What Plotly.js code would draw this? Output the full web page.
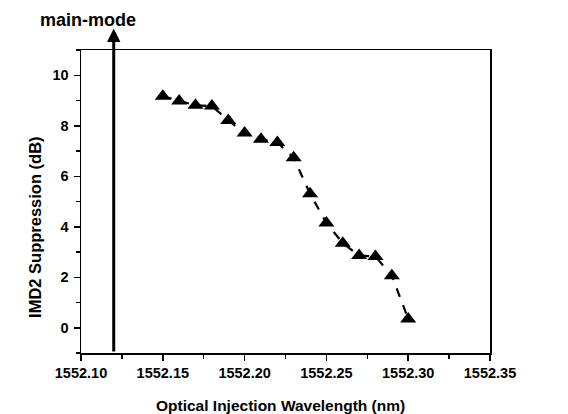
<!DOCTYPE html>
<html><head><meta charset="utf-8">
<script src="https://cdn.plot.ly/plotly-3.0.1.min.js"></script>
<style>html,body{margin:0;padding:0;background:#fff}#c{width:568px;height:414px}</style>
</head><body><div id="c"></div>
<script>
const wavelength = [1552.15,1552.16,1552.17,1552.18,1552.19,1552.20,1552.21,1552.22,1552.23,1552.24,1552.25,1552.26,1552.27,1552.28,1552.29,1552.30];
const suppression = [9.17,8.98,8.81,8.78,8.21,7.71,7.47,7.34,6.73,5.31,4.15,3.35,2.86,2.82,2.06,0.35];
const xTickVals = [1552.10,1552.15,1552.20,1552.25,1552.30,1552.35];
const xTickText = ["1552.10","1552.15","1552.20","1552.25","1552.30","1552.35"];
const yTickVals = [0,2,4,6,8,10];
const yTickText = ["0","2","4","6","8","10"];
const mainModeX = 1552.12;
const mainModeLabel = "main-mode";
const xTitle = "Optical Injection Wavelength (nm)";
const yTitle = "IMD2 Suppression (dB)";

const font = {family: "Liberation Sans, Arial, sans-serif", color: "#000"};
const bold = a => a.map(s => "<b>" + s + "</b>");
const trace = {
  x: wavelength, y: suppression, type: "scatter", mode: "lines+markers",
  line: {color: "#000", width: 2.2, dash: "dash"},
  marker: {symbol: "triangle-up", size: 14, color: "#000"},
  cliponaxis: false, hoverinfo: "skip"
};
const layout = {
  width: 568, height: 414,
  margin: {l: 81, r: 78, t: 50, b: 61},
  paper_bgcolor: "#fff", plot_bgcolor: "#fff",
  showlegend: false,
  font: Object.assign({size: 14}, font),
  xaxis: {
    range: [1552.10, 1552.35], tickmode: "array", tickvals: xTickVals, ticktext: bold(xTickText),
    ticks: "outside", ticklen: 6, tickwidth: 1.5, tickcolor: "#000",
    minor: {dtick: 0.025, tick0: 1552.10, ticks: "outside", ticklen: 4, tickcolor: "#000"},
    showgrid: false, zeroline: false, showline: true, linecolor: "#000", linewidth: 1.5,
    mirror: true, ticklabelstandoff: 0,
    tickfont: Object.assign({size: 14.5}, font)
  },
  yaxis: {
    range: [-1, 11], tickmode: "array", tickvals: yTickVals, ticktext: bold(yTickText),
    ticks: "outside", ticklen: 6, tickwidth: 1.5, tickcolor: "#000",
    minor: {dtick: 1, tick0: 0, ticks: "outside", ticklen: 4, tickcolor: "#000"},
    showgrid: false, zeroline: false, showline: true, linecolor: "#000", linewidth: 1.5,
    mirror: true, ticklabelstandoff: 2,
    tickfont: Object.assign({size: 14.5}, font)
  },
  annotations: [
    {x: mainModeX, y: 11.85, xref: "x", yref: "y", ax: mainModeX, ay: -1, axref: "x", ayref: "y",
     text: "", showarrow: true, arrowhead: 2, arrowsize: 0.9, arrowwidth: 3, arrowcolor: "#000"},
    {x: 0.016, y: 1.099, xref: "paper", yref: "paper", text: "<b>" + mainModeLabel + "</b>",
     showarrow: false, xanchor: "center", yanchor: "middle",
     font: Object.assign({size: 18}, font)},
    {x: 0.487, y: -0.172, xref: "paper", yref: "paper", text: "<b>" + xTitle + "</b>",
     showarrow: false, xanchor: "center", yanchor: "middle",
     font: Object.assign({size: 15.5}, font)},
    {x: -0.1125, y: 0.416, xref: "paper", yref: "paper", text: "<b>" + yTitle + "</b>",
     showarrow: false, xanchor: "center", yanchor: "middle", textangle: -90,
     font: Object.assign({size: 16.5}, font)}
  ]
};
Plotly.newPlot("c", [trace], layout, {staticPlot: true, displayModeBar: false});
</script></body></html>
